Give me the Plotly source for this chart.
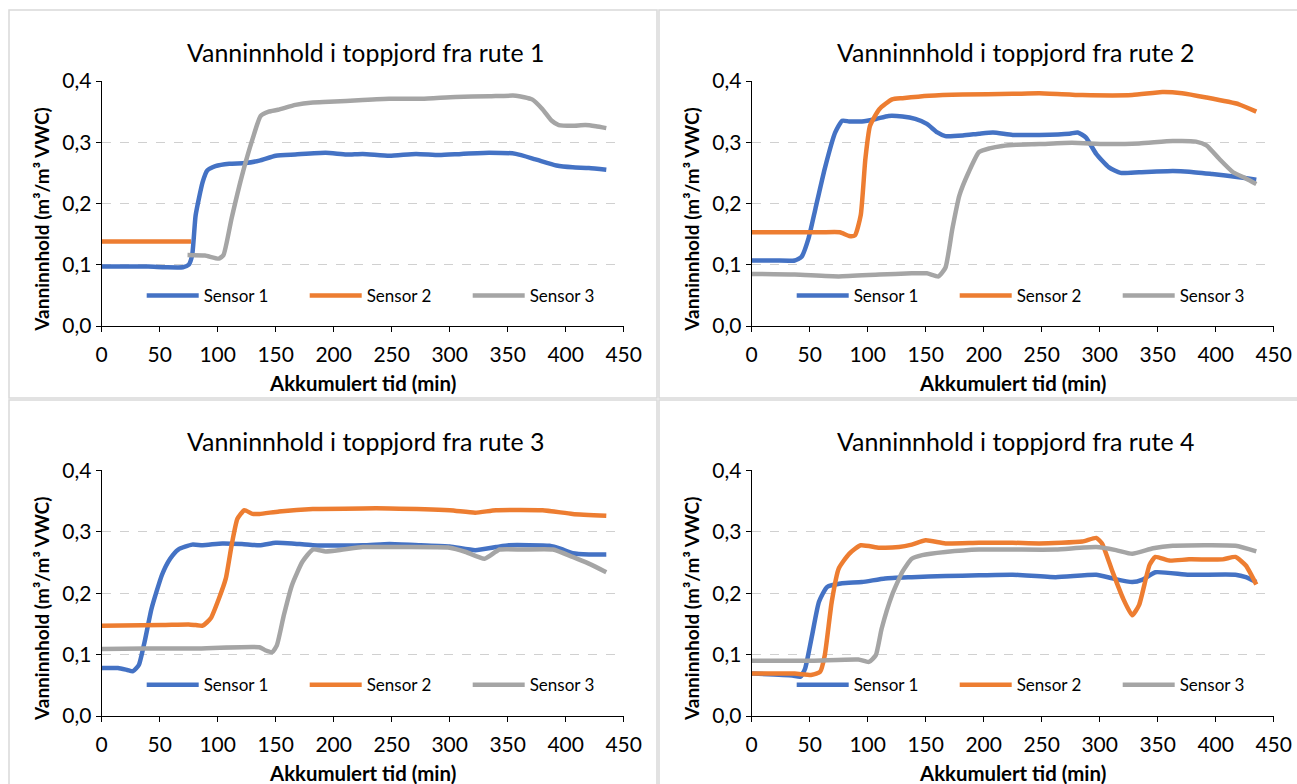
import plotly.graph_objects as go

# ---- data: accumulated time (min) and volumetric water content per sensor ----
r1_s1_t = [0, 20, 40, 55, 70, 75, 78, 81, 87, 91, 98, 110, 124, 136, 150, 167, 193, 211, 225, 248, 271, 291, 310, 334, 357, 374, 392, 406, 420, 435]
r1_s1_v = [0.097, 0.097, 0.097, 0.096, 0.096, 0.100, 0.116, 0.181, 0.235, 0.254, 0.261, 0.265, 0.266, 0.270, 0.278, 0.280, 0.283, 0.280, 0.281, 0.278, 0.281, 0.279, 0.281, 0.283, 0.281, 0.272, 0.262, 0.259, 0.258, 0.255]
r1_s2_t = [0, 25, 50, 77]
r1_s2_v = [0.138, 0.138, 0.138, 0.138]
r1_s3_t = [74, 89, 101, 105, 112, 121, 130, 137, 144, 152, 167, 182, 196, 225, 248, 276, 305, 334, 357, 371, 380, 388, 394, 406, 417, 426, 435]
r1_s3_v = [0.116, 0.115, 0.110, 0.116, 0.176, 0.246, 0.305, 0.343, 0.350, 0.353, 0.361, 0.365, 0.366, 0.369, 0.371, 0.371, 0.374, 0.375, 0.376, 0.370, 0.354, 0.335, 0.328, 0.327, 0.328, 0.326, 0.323]

r2_s1_t = [0, 20, 37, 43, 49, 55, 63, 72, 78, 84, 95, 107, 118, 130, 141, 151, 160, 167, 182, 196, 208, 225, 248, 274, 281, 288, 297, 308, 318, 334, 363, 377, 397, 420, 435]
r2_s1_v = [0.107, 0.107, 0.107, 0.113, 0.143, 0.192, 0.257, 0.316, 0.335, 0.334, 0.334, 0.338, 0.343, 0.342, 0.338, 0.330, 0.316, 0.310, 0.311, 0.314, 0.316, 0.312, 0.312, 0.314, 0.316, 0.308, 0.281, 0.259, 0.250, 0.251, 0.253, 0.252, 0.248, 0.243, 0.239]
r2_s2_t = [0, 30, 60, 76, 84, 89, 94, 98, 102, 110, 121, 130, 153, 182, 225, 248, 285, 328, 354, 371, 392, 420, 435]
r2_s2_v = [0.153, 0.153, 0.153, 0.153, 0.147, 0.148, 0.181, 0.273, 0.327, 0.354, 0.370, 0.372, 0.376, 0.378, 0.379, 0.380, 0.377, 0.377, 0.382, 0.380, 0.373, 0.362, 0.350]
r2_s3_t = [0, 37, 75, 110, 138, 151, 161, 167, 173, 179, 187, 196, 205, 216, 228, 248, 276, 305, 334, 363, 383, 392, 403, 415, 426, 435]
r2_s3_v = [0.085, 0.084, 0.081, 0.084, 0.086, 0.086, 0.081, 0.095, 0.159, 0.213, 0.251, 0.284, 0.290, 0.294, 0.296, 0.297, 0.299, 0.297, 0.298, 0.302, 0.301, 0.295, 0.273, 0.251, 0.241, 0.232]

r3_s1_t = [0, 14, 22, 27, 32, 37, 43, 52, 59, 66, 78, 87, 104, 121, 136, 150, 164, 182, 225, 248, 275, 300, 322, 340, 351, 386, 396, 406, 420, 435]
r3_s1_v = [0.078, 0.078, 0.075, 0.073, 0.083, 0.121, 0.175, 0.230, 0.256, 0.271, 0.279, 0.278, 0.281, 0.280, 0.278, 0.282, 0.281, 0.278, 0.278, 0.280, 0.278, 0.276, 0.270, 0.275, 0.278, 0.277, 0.272, 0.265, 0.263, 0.263]
r3_s2_t = [0, 52, 75, 81, 87, 94, 101, 107, 112, 117, 123, 130, 136, 153, 182, 225, 248, 300, 322, 340, 380, 406, 435]
r3_s2_v = [0.147, 0.148, 0.149, 0.148, 0.147, 0.159, 0.191, 0.224, 0.278, 0.321, 0.335, 0.329, 0.329, 0.333, 0.337, 0.338, 0.338, 0.335, 0.331, 0.335, 0.335, 0.329, 0.326]
r3_s3_t = [0, 37, 81, 136, 141, 147, 151, 157, 164, 173, 182, 193, 208, 225, 248, 300, 314, 330, 343, 363, 389, 406, 420, 435]
r3_s3_v = [0.109, 0.110, 0.110, 0.112, 0.107, 0.104, 0.115, 0.164, 0.213, 0.251, 0.271, 0.268, 0.271, 0.275, 0.275, 0.274, 0.267, 0.256, 0.271, 0.271, 0.271, 0.259, 0.248, 0.234]

r4_s1_t = [0, 35, 42, 46, 52, 58, 65, 78, 95, 115, 138, 167, 196, 225, 262, 297, 311, 328, 337, 348, 377, 417, 426, 435]
r4_s1_v = [0.069, 0.066, 0.064, 0.077, 0.131, 0.186, 0.210, 0.216, 0.218, 0.224, 0.226, 0.228, 0.229, 0.230, 0.226, 0.230, 0.224, 0.218, 0.222, 0.234, 0.230, 0.230, 0.226, 0.218]
r4_s2_t = [0, 37, 52, 59, 63, 69, 75, 84, 94, 110, 127, 138, 150, 167, 196, 225, 248, 285, 297, 302, 311, 320, 328, 334, 343, 348, 360, 377, 406, 417, 426, 435]
r4_s2_v = [0.069, 0.069, 0.067, 0.072, 0.099, 0.186, 0.240, 0.264, 0.278, 0.274, 0.275, 0.279, 0.286, 0.281, 0.282, 0.282, 0.281, 0.284, 0.290, 0.281, 0.235, 0.192, 0.164, 0.181, 0.246, 0.259, 0.253, 0.255, 0.255, 0.259, 0.245, 0.214]
r4_s3_t = [0, 52, 92, 101, 107, 112, 121, 130, 138, 147, 167, 196, 225, 262, 297, 314, 328, 346, 363, 417, 435]
r4_s3_v = [0.090, 0.090, 0.092, 0.088, 0.099, 0.142, 0.197, 0.235, 0.256, 0.262, 0.267, 0.271, 0.271, 0.271, 0.275, 0.270, 0.264, 0.273, 0.277, 0.277, 0.268]

sensor_names = ["Sensor 1", "Sensor 2", "Sensor 3"]
sensor_colors = ["#4472C4", "#ED7D31", "#A5A5A5"]
panel_titles = [
    "Vanninnhold i toppjord fra rute 1",
    "Vanninnhold i toppjord fra rute 2",
    "Vanninnhold i toppjord fra rute 3",
    "Vanninnhold i toppjord fra rute 4",
]
x_label = "Akkumulert tid (min)"
y_label = "Vanninnhold (m³/m³ VWC)"
x_ticks = [0, 50, 100, 150, 200, 250, 300, 350, 400, 450]
y_ticks = [0.0, 0.1, 0.2, 0.3, 0.4]

panels = [
    [(r1_s1_t, r1_s1_v), (r1_s2_t, r1_s2_v), (r1_s3_t, r1_s3_v)],
    [(r2_s1_t, r2_s1_v), (r2_s2_t, r2_s2_v), (r2_s3_t, r2_s3_v)],
    [(r3_s1_t, r3_s1_v), (r3_s2_t, r3_s2_v), (r3_s3_t, r3_s3_v)],
    [(r4_s1_t, r4_s1_v), (r4_s2_t, r4_s2_v), (r4_s3_t, r4_s3_v)],
]

# ---- page geometry (pixels) ----
W, H = 1297, 784
FONT = "Lato, Carlito, Calibri, sans-serif"
col_left = [101.7, 751.7]          # plot-area left edge per column
plot_w = 522.0
row_top = [81.0, 470.3]            # plot-area top edge per row
plot_h = [245.0, 245.7]
boxes = [  # chart-area frames: x0, y0, x1, y1
    (9, 10, 657, 398), (659, 10, 1310, 398),
    (9, 400, 657, 800), (659, 400, 1310, 800),
]


def px(x):
    return x / W


def py(y):
    return 1 - y / H


fig = go.Figure()
shapes = []
annotations = []

for i, series in enumerate(panels):
    col, row = i % 2, i // 2
    n = "" if i == 0 else str(i + 1)
    x0 = col_left[col]
    y0 = row_top[row]
    ph = plot_h[row]
    leg = "legend" if i == 0 else f"legend{i + 1}"

    for k, (t, v) in enumerate(series):
        fig.add_trace(go.Scatter(
            x=t, y=v, mode="lines", name=sensor_names[k],
            line=dict(color=sensor_colors[k], width=4.5, shape="spline", smoothing=0.5),
            xaxis=f"x{n}", yaxis=f"y{n}", legend=leg,
        ))

    fig.layout[f"xaxis{n}"] = dict(
        domain=[px(x0), px(x0 + plot_w)], anchor=f"y{n}",
        range=[0, 450], tickvals=x_ticks, ticks="outside", ticklen=5,
        tickcolor="#000", showline=True, linecolor="#000", linewidth=1.3,
        showgrid=False, zeroline=False, fixedrange=True, ticklabelstandoff=5,
        tickfont=dict(family=FONT, size=21, color="#000"),
    )
    fig.layout[f"yaxis{n}"] = dict(
        domain=[py(y0 + ph), py(y0)], anchor=f"x{n}",
        range=[0, 0.4], tickvals=y_ticks, tickformat=".1f", ticks="outside", ticklen=5,
        tickcolor="#000", showline=True, linecolor="#000", linewidth=1.3,
        showgrid=True, gridcolor="#d0d0d0", griddash="dash", gridwidth=1.3,
        zeroline=False, fixedrange=True,
        tickfont=dict(family=FONT, size=21, color="#000"),
    )
    fig.layout[leg] = dict(
        orientation="h", x=px(x0 + 40), y=py(y0 + 215), xanchor="left", yanchor="middle",
        font=dict(family=FONT, size=17, color="#000"), bgcolor="rgba(0,0,0,0)",
        itemwidth=52, entrywidth=96, entrywidthmode="pixels",
    )

    cx = x0 + plot_w / 2
    annotations.append(dict(
        text=panel_titles[i], x=px(cx + 3), y=py(y0 - 29), xref="paper", yref="paper",
        showarrow=False, font=dict(family=FONT, size=24.9, color="#000"),
        xanchor="center", yanchor="middle",
    ))
    annotations.append(dict(
        text=f"<b>{x_label}</b>", x=px(cx), y=py(y0 + ph + 57), xref="paper", yref="paper",
        showarrow=False, font=dict(family=FONT, size=20.4, color="#000"),
        xanchor="center", yanchor="middle",
    ))
    annotations.append(dict(
        text=f"<b>{y_label}</b>", x=px(x0 - 60), y=py(y0 + 139), xref="paper", yref="paper",
        showarrow=False, font=dict(family=FONT, size=19, color="#000"), textangle=-90,
        xanchor="center", yanchor="middle",
    ))

for (bx0, by0, bx1, by1) in boxes:
    shapes.append(dict(
        type="rect", xref="paper", yref="paper",
        x0=px(bx0), x1=px(bx1), y0=py(by1), y1=py(by0),
        line=dict(color="#d9d9d9", width=1.5), fillcolor="rgba(0,0,0,0)", layer="below",
    ))

fig.update_layout(
    width=W, height=H, margin=dict(l=0, r=0, t=0, b=0, autoexpand=False),
    paper_bgcolor="#fff", plot_bgcolor="#fff",
    separators=", ", showlegend=True,
    shapes=shapes, annotations=annotations,
    font=dict(family=FONT, color="#000"),
)

fig.write_html("out.html", config={"displayModeBar": False})
